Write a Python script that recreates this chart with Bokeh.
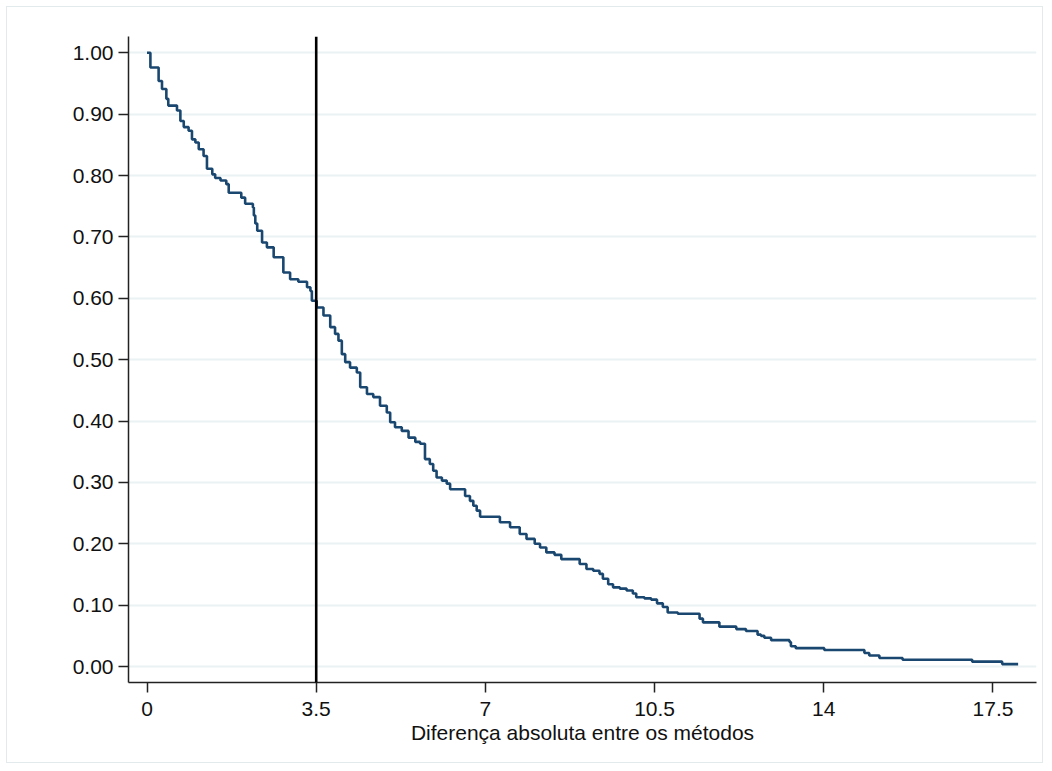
from bokeh.plotting import figure
from bokeh.models import FixedTicker, Span, Range1d, PrintfTickFormatter
from bokeh.embed import file_html
from bokeh.resources import INLINE

# Step curve: proportion with absolute difference >= x
diff_x = [0.00, 0.07, 0.24, 0.31, 0.40, 0.44, 0.62, 0.69, 0.76, 0.86, 0.93, 1.00,
          1.07, 1.17, 1.24, 1.35, 1.41, 1.52, 1.64, 1.69, 1.95, 2.03, 2.19, 2.21,
          2.24, 2.28, 2.38, 2.48, 2.62, 2.82, 2.96, 3.13, 3.31, 3.38, 3.41, 3.51,
          3.65, 3.79, 3.89, 3.96, 4.03, 4.10, 4.20, 4.34, 4.41, 4.55, 4.68, 4.82,
          4.96, 5.03, 5.13, 5.27, 5.41, 5.55, 5.65, 5.75, 5.85, 5.92, 5.99, 6.10,
          6.20, 6.27, 6.58, 6.68, 6.75, 6.82, 6.89, 7.30, 7.51, 7.71, 7.85, 8.02,
          8.13, 8.26, 8.43, 8.57, 8.95, 9.09, 9.23, 9.36, 9.43, 9.54, 9.64, 9.78,
          9.92, 10.05, 10.12, 10.29, 10.43, 10.55, 10.67, 10.77, 10.98, 11.43, 11.50,
          11.84, 12.19, 12.39, 12.63, 12.70, 12.77, 12.91, 13.29, 13.32, 13.42,
          14.01, 14.84, 14.94, 15.15, 15.63, 17.07, 17.69, 18.02]
prop_y = [1.000, 0.976, 0.954, 0.941, 0.925, 0.914, 0.906, 0.889, 0.879, 0.873, 0.859, 0.854,
          0.843, 0.832, 0.811, 0.802, 0.796, 0.792, 0.786, 0.772, 0.764, 0.754, 0.748, 0.735,
          0.722, 0.710, 0.691, 0.683, 0.667, 0.642, 0.631, 0.627, 0.618, 0.612, 0.596, 0.585,
          0.572, 0.553, 0.542, 0.531, 0.509, 0.496, 0.487, 0.479, 0.455, 0.444, 0.439, 0.425,
          0.414, 0.398, 0.390, 0.384, 0.373, 0.366, 0.363, 0.338, 0.330, 0.319, 0.308, 0.303,
          0.298, 0.289, 0.278, 0.270, 0.262, 0.254, 0.244, 0.235, 0.227, 0.216, 0.208, 0.200,
          0.194, 0.186, 0.182, 0.175, 0.167, 0.159, 0.156, 0.151, 0.143, 0.134, 0.129, 0.127,
          0.124, 0.119, 0.113, 0.111, 0.109, 0.103, 0.097, 0.088, 0.086, 0.078, 0.072,
          0.065, 0.061, 0.058, 0.052, 0.050, 0.047, 0.043, 0.040, 0.033, 0.030,
          0.027, 0.022, 0.018, 0.014, 0.011, 0.008, 0.004, 0.004]

ref_line_x = 3.5
x_ticks = [0, 3.5, 7, 10.5, 14, 17.5]
x_tick_labels = ["0", "3.5", "7", "10.5", "14", "17.5"]
y_ticks = [0.0, 0.1, 0.2, 0.3, 0.4, 0.5, 0.6, 0.7, 0.8, 0.9, 1.0]
x_title = "Diferença absoluta entre os métodos"

FONT = "Liberation Sans"
TXT = "#111111"

p = figure(width=1037, height=757, output_backend="svg", toolbar_location=None,
           x_range=Range1d(-0.383, 18.40), y_range=Range1d(-0.026, 1.0266),
           min_border_left=121, min_border_right=8, min_border_top=29, min_border_bottom=82)
p.styles = {"border": "1px solid #e3eaec", "margin-left": "6px", "margin-top": "6px"}
p.outline_line_color = None
p.background_fill_color = "white"
p.border_fill_color = "white"

# grid
p.xgrid.visible = False
p.ygrid.grid_line_color = "#eaf2f3"
p.ygrid.grid_line_width = 2
p.ygrid.ticker = FixedTicker(ticks=y_ticks)

# axes
p.xaxis.ticker = FixedTicker(ticks=x_ticks)
p.xaxis.major_label_overrides = {t: l for t, l in zip(x_ticks, x_tick_labels)}
p.yaxis.ticker = FixedTicker(ticks=y_ticks)
p.yaxis.formatter = PrintfTickFormatter(format="%.2f")
for ax in (p.xaxis, p.yaxis):
    ax.axis_line_color = "#222222"
    ax.axis_line_width = 1.5
    ax.major_tick_line_color = "#222222"
    ax.major_tick_line_width = 1.5
    ax.major_tick_out = 10
    ax.major_tick_in = 0
    ax.minor_tick_line_color = None
    ax.major_label_text_font = FONT
    ax.major_label_text_font_size = "21px"
    ax.major_label_text_color = TXT
p.xaxis.major_label_standoff = 9
p.yaxis.major_label_standoff = 5
p.xaxis.axis_label = x_title
p.xaxis.axis_label_text_font = FONT
p.xaxis.axis_label_text_font_size = "21px"
p.xaxis.axis_label_text_font_style = "normal"
p.xaxis.axis_label_text_color = TXT
p.xaxis.axis_label_standoff = 2

p.step(diff_x, prop_y, mode="after", line_color="#1a476f", line_width=2.6)
p.add_layout(Span(location=ref_line_x, dimension="height", line_color="black", line_width=2.6))

open("out.html", "w").write(file_html(p, INLINE))
